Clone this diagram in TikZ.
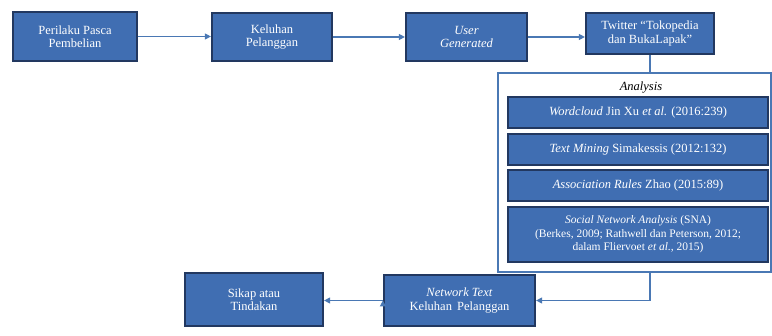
\documentclass[tikz,border=0pt]{standalone}
\usepackage{fontspec}
\setmainfont{Liberation Serif}
\usepackage{tikz}
\usetikzlibrary{arrows.meta}
\definecolor{boxfill}{RGB}{64,110,178}
\definecolor{boxline}{RGB}{34,56,96}
\definecolor{linkline}{RGB}{74,120,180}
\tikzset{
	flowbox/.style={draw=boxline,line width=2.2pt,fill=boxfill,text=white,align=center,
		font=\fontsize{12.5}{13.5}\selectfont,inner sep=1pt},
	methodbox/.style={flowbox,line width=1.6pt,minimum width=260pt,minimum height=31pt},
	link/.style={draw=linkline,line width=1.1pt}
}
\begin{document}
\begin{tikzpicture}[x=1pt,y=-1pt]
		\useasboundingbox (0,0) rectangle (772,336);
		\node[flowbox,minimum width=124pt,minimum height=49pt] (b1) at (75,36.5) {Perilaku Pasca\\Pembelian};
		\node[flowbox,minimum width=120pt,minimum height=48pt] (b2) at (272,37) {Keluhan\\Pelanggan};
		\node[flowbox,minimum width=121pt,minimum height=48pt] (b3) at (466.5,37) {\textit{User}\\\textit{Generated}};
		\node[flowbox,minimum width=128pt,minimum height=41pt] (b4) at (650,33.5) {Twitter ``Tokopedia\\dan BukaLapak''};
		%
		\node[draw=linkline,line width=2pt,fill=white,minimum width=273pt,minimum height=199pt] (ana) at (634.5,172.5) {};
		\node[font=\fontsize{12.5}{13.5}\selectfont\itshape] (anat) at (641,88) {Analysis};
		\node[methodbox] (wA) at (638,112.5) {\textit{Wordcloud} Jin Xu \textit{et al.} (2016:239)};
		\node[methodbox] (wB) at (638,149.5) {\textit{Text Mining} Simakessis (2012:132)};
		\node[methodbox] (wC) at (638,185.5) {\textit{Association Rules} Zhao (2015:89)};
		\node[methodbox,minimum height=55pt,font=\fontsize{11.5}{13.5}\selectfont] (wD) at (638,234.5) {\textit{Social Network Analysis} (SNA)\\(Berkes, 2009; Rathwell dan Peterson, 2012;\\dalam Fliervoet \textit{et al.}, 2015)};
		%
		\node[flowbox,minimum width=151pt,minimum height=51pt] (ntx) at (459.5,300.5) {\textit{Network Text}\\Keluhan\, Pelanggan};
		\node[flowbox,minimum width=138pt,minimum height=53pt] (skp) at (254,299.5) {Sikap atau\\Tindakan};
		%
		\path[link,-{Triangle[length=6pt,width=6pt]},fill=linkline]
		(b1.east) edge (b1.east -| b2.west)
		(b2.east) edge (b2.east -| b3.west)
		(b3.east) edge (b3.east -| b4.west)
		(ntx.west) edge (ntx.west -| skp.east);
		\draw[link] (b4.south) -- (b4.south |- ana.north);
		\draw[link,-{Triangle[length=6pt,width=6pt]}] (b4.south |- ana.south) |- (ntx.east);
		\end{tikzpicture}
\end{document}
